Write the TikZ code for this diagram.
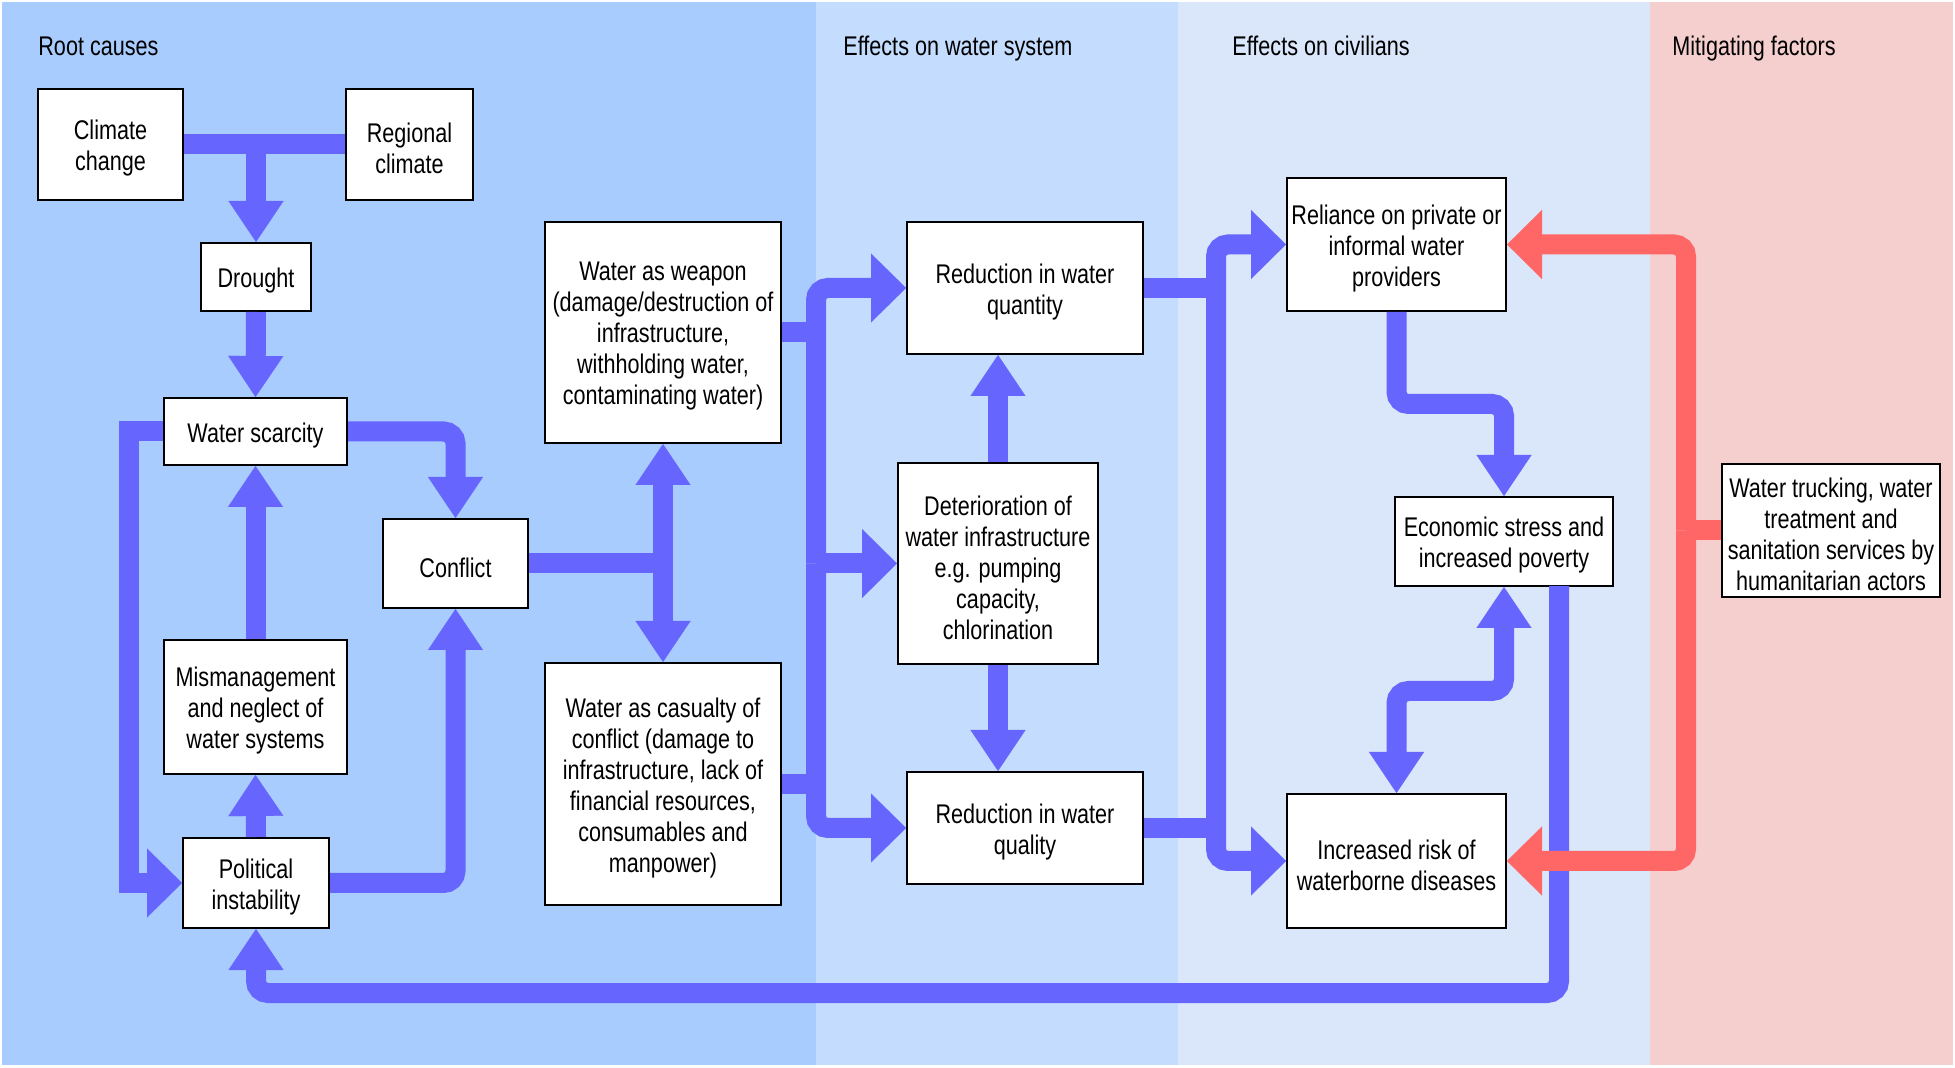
\documentclass[tikz,border=0pt]{standalone}
\usepackage{fontspec}
\setmainfont{Liberation Sans}[FakeStretch=0.8]
\usetikzlibrary{arrows.meta}
\definecolor{rootbg}{HTML}{A9CCFE}
\definecolor{waterbg}{HTML}{C4DCFE}
\definecolor{civbg}{HTML}{DAE6FA}
\definecolor{mitbg}{HTML}{F5CFCE}
\definecolor{arrblue}{HTML}{6666FF}
\definecolor{arrred}{HTML}{FF6666}
% box frame plus its text, text lowered slightly as in the reference
\newcommand\mybox[6]{%
  \node[box,sz={#4}{#5}] (#1) at (#2,#3) {};
  \node[txt,align=center,inner sep=0pt,yshift=-2pt] (#1t) at (#1.center) {#6};
}
\begin{document}
\begin{tikzpicture}[x=0.5pt,y=-0.5pt,
  txt/.style={font=\fontsize{13.5pt}{15.5pt}\selectfont},
  box/.style={draw=black,line width=1pt,fill=white,inner sep=0pt},
  sz/.style 2 args={minimum width=#1*0.5pt,minimum height=#2*0.5pt},
  conn/.style={draw=arrblue,line width=10pt,rounded corners=6pt},
  redconn/.style={draw=arrred,line width=10pt,rounded corners=6pt},
  vtip/.style={-{Triangle[length=20.5pt,width=27.5pt,line width=0.1pt]}},
  htip/.style={-{Triangle[length=17.5pt,width=34.5pt,line width=0.1pt]}},
  vboth/.style={{Triangle[length=20.5pt,width=27.5pt,line width=0.1pt]}-{Triangle[length=20.5pt,width=27.5pt,line width=0.1pt]}}
]
\useasboundingbox (0,0) rectangle (1955,1068);
\fill[white] (0,0) rectangle (1955,1068);
\fill[rootbg] (2,2) rectangle (816,1065);
\fill[waterbg] (816,2) rectangle (1178,1065);
\fill[civbg] (1178,2) rectangle (1650,1065);
\fill[mitbg] (1650,2) rectangle (1953,1065);

\node[txt,anchor=base west,inner sep=0pt] (t1) at (38,56) {Root causes};
\node[txt,anchor=base west,inner sep=0pt] (t2) at (843,56) {Effects on water system};
\node[txt,anchor=base west,inner sep=0pt] (t3) at (1232,56) {Effects on civilians};
\node[txt,anchor=base west,inner sep=0pt] (t4) at (1672,56) {Mitigating factors};

\coordinate (cj) at (256,144.5);
\coordinate (kj) at (663,563.5);
\coordinate (lt) at (816,563.5);
\coordinate (rt) at (1216,550);
\coordinate (rj) at (1686,530.5);

\mybox{climate}{110.5}{144.5}{145}{111}{Climate\\change}
\mybox{regional}{409.5}{144.5}{127}{111}{Regional\\climate}
\mybox{drought}{256}{277}{110}{68}{Drought}
\mybox{scarcity}{255.5}{431.5}{183}{67}{Water scarcity}
\mybox{conflict}{455.5}{563.5}{145}{89}{Conflict}
\mybox{mism}{255.5}{707}{183}{134}{Mismanagement\\and neglect of\\water systems}
\mybox{political}{256}{883}{146}{90}{Political\\instability}
\mybox{weapon}{663}{332.5}{236}{221}{Water as weapon\\(damage/destruction of\\infrastructure,\\withholding water,\\contaminating water)}
\mybox{casualty}{663}{784}{236}{242}{Water as casualty of\\conflict (damage to\\infrastructure, lack of\\financial resources,\\consumables and\\manpower)}
\mybox{quantity}{1025}{288}{236}{132}{Reduction in water\\quantity}
\mybox{det}{998}{563.5}{200}{201}{Deterioration of\\water infrastructure\\e.g. pumping\\capacity,\\chlorination}
\mybox{quality}{1025}{828}{236}{112}{Reduction in water\\quality}
\mybox{reliance}{1396.5}{244.5}{219}{133}{Reliance on private or\\informal water\\providers}
\mybox{economic}{1504}{541.5}{218}{89}{Economic stress and\\increased poverty}
\mybox{risk}{1396.5}{861}{219}{134}{Increased risk of\\waterborne diseases}
\mybox{truck}{1831}{530.5}{218}{133}{Water trucking, water\\treatment and\\sanitation services by\\humanitarian actors}

\coordinate (eb) at (1559,586);
\coordinate (rr) at (1396.5,404);
\coordinate (ee) at (1504,691);

% root causes
\draw[conn] (climate.east) -- (regional.west);
\draw[conn,vtip] (cj) -- (drought.north);
\draw[conn,vtip] (drought.south) -- (scarcity.north);
\draw[conn,vtip] (scarcity.east) -| (conflict.north);
\draw[conn,rounded corners=0pt,htip] (scarcity.west) -- (129,431.5) -- (129,883) -- (political.west);
\draw[conn,vtip] (mism.north) -- (scarcity.south);
\draw[conn,vtip] (political.north) -- (mism.south);
\draw[conn,vtip] (political.east) -| (conflict.south);
\draw[conn] (conflict.east) -- (kj);
\draw[conn,vtip] (kj) -- (weapon.south);
\draw[conn,vtip] (kj) -- (casualty.north);

% water system
\draw[conn] (weapon.east) -- (weapon.east -| lt);
\draw[conn] (casualty.east) -- (casualty.east -| lt);
\draw[conn,htip] (lt) |- (quantity.west);
\draw[conn,htip] (lt) |- (quality.west);
\draw[conn,htip] (lt) -- (det.west);
\draw[conn,vtip] (det.north) -- (det.north |- quantity.south);
\draw[conn,vtip] (det.south) -- (det.south |- quality.north);

% civilians
\draw[conn] (quantity.east) -- (quantity.east -| rt);
\draw[conn] (quality.east) -- (quality.east -| rt);
\draw[conn,htip] (rt) |- (reliance.west);
\draw[conn,htip] (rt) |- (risk.west);
\draw[conn,vtip] (reliance.south) -- (rr) -| (economic.north);
\draw[conn,vboth] (economic.south) -- (ee) -| (risk.north);
\draw[conn,vtip] (eb) -- (1559,993) -| (political.south);

% mitigating
\draw[redconn] (truck.west) -- (rj);
\draw[redconn,htip] (rj) |- (reliance.east);
\draw[redconn,htip] (rj) |- (risk.east);
\end{tikzpicture}
\end{document}
